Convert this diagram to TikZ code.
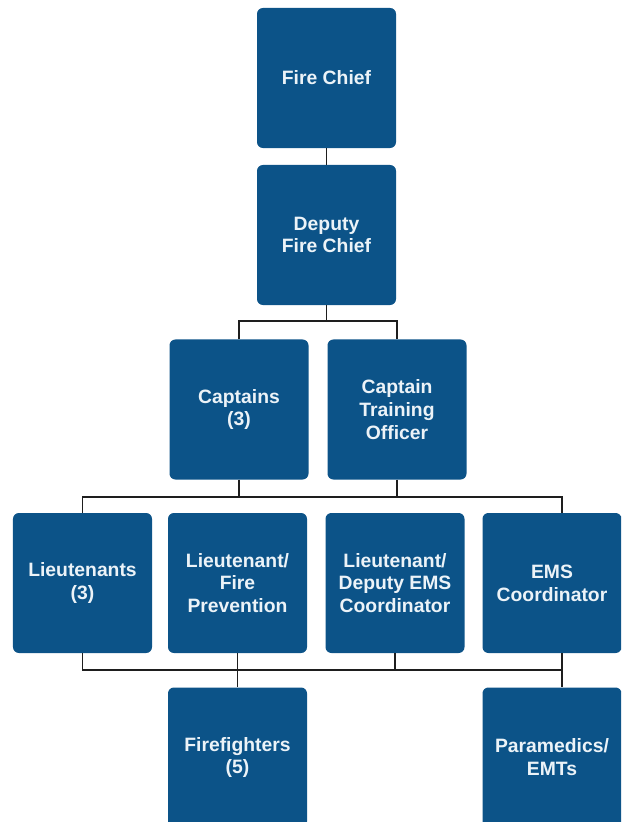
\documentclass[tikz,border=0pt]{standalone}
\usepackage{fontspec}
\setmainfont{Liberation Sans}
\definecolor{chartblue}{RGB}{12,83,136}
\definecolor{chartline}{RGB}{30,30,30}
\definecolor{posttext}{RGB}{236,243,248}
\usetikzlibrary{positioning}

\begin{document}
\begin{tikzpicture}[x=0.03cm,y=-0.03cm,
    post/.style={fill=chartblue,rounded corners=5pt,inner sep=0pt,
      minimum width=4.17cm,minimum height=4.2cm,align=center,
      text=posttext,font=\fontsize{16.5}{19.5}\selectfont\bfseries},
    link/.style={draw=chartline,line width=1.2pt}]
  \useasboundingbox (0,0) rectangle (621,822);
  \clip (0,0) rectangle (621,822);
  %% Top of the chart
  \node[post] (chief)    at (326.5,78)  {Fire Chief};
  \node[post] (deputy)   at (326.5,235) {Deputy\\Fire Chief};
  %% Captains
  \node[post] (captains) at (239,409.5) {Captains\\(3)};
  \node[post] (training) at (397,409.5) {Captain\\Training\\Officer};
  %% Lieutenants and coordinators
  \node[post] (lieut)      at (82.5,583) {Lieutenants\\(3)};
  \node[post] (prevention) at (237.5,583) {Lieutenant/\\Fire\\Prevention};
  \node[post] (emsdep)     at (395,583)  {Lieutenant/\\Deputy EMS\\Coordinator};
  \node[post] (emscoord)   at (552,583)  {EMS\\Coordinator};
  %% Bottom row
  \node[post] (firefighters) at (237.5,757.5) {Firefighters\\(5)};
  \node[post] (paramedics)   at (552,757.5)   {Paramedics/\\EMTs};
  %% Bus lines
  \coordinate (bus1)  at (326.5,321);
  \coordinate (bus2l) at (82.5,497);
  \coordinate (bus2r) at (562,497);
  \coordinate (bus3l) at (82.5,670);
  \coordinate (bus3r) at (562,670);
  %% Connectors
  \draw[link] (chief) -- (deputy);
  \draw[link] (deputy) -- (bus1);
  \draw[link] (captains.north) |- (bus1) -| (training.north);
  \draw[link] (lieut.north) -- (bus2l) -- (bus2r) -- (bus2r |- emscoord.north);
  \draw[link] (captains.south) -- (captains.south |- bus2l);
  \draw[link] (training.south) -- (training.south |- bus2l);
  \draw[link] (lieut.south) -- (bus3l) -- (bus3r) -- (bus3r |- emscoord.south);
  \draw[link] (prevention.south) -- (firefighters.north);
  \draw[link] (emsdep.south) -- (emsdep.south |- bus3l);
  \draw[link] (bus3r) -- (bus3r |- paramedics.north);
\end{tikzpicture}
\end{document}
